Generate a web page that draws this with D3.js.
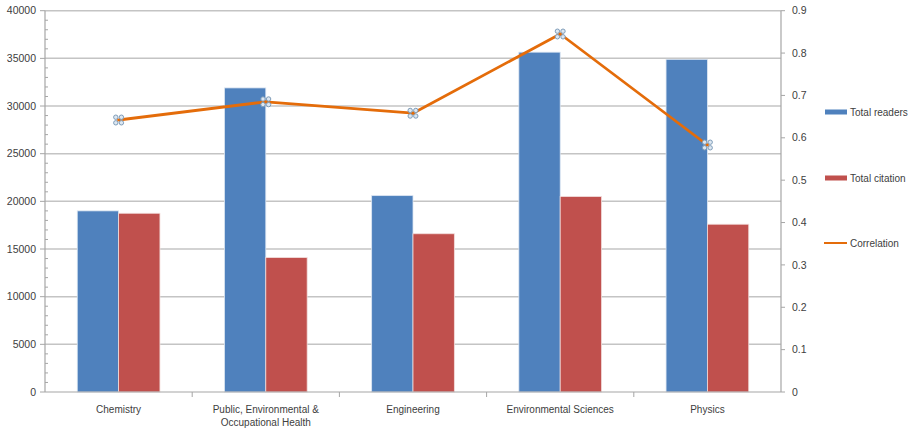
<!DOCTYPE html>
<html>
<head>
<meta charset="utf-8">
<script src="https://d3js.org/d3.v7.min.js"></script>
<style>
  body { margin: 0; background: #fff; }
  text { font-family: "Liberation Sans", Arial, sans-serif; fill: #404040; }
</style>
</head>
<body>
<svg></svg>
<script>
var width = 920,
    height = 431;

// data
var categories = ["Chemistry", "Public, Environmental & Occupational Health", "Engineering", "Environmental Sciences", "Physics"];
var categoryLines = [["Chemistry"], ["Public, Environmental &", "Occupational Health"], ["Engineering"], ["Environmental Sciences"], ["Physics"]];
var totalReaders = [19000, 31900, 20600, 35650, 34900];
var totalCitation = [18750, 14100, 16600, 20500, 17600];
var correlation = [0.642, 0.685, 0.658, 0.845, 0.583];
var leftTicks = [0, 5000, 10000, 15000, 20000, 25000, 30000, 35000, 40000];
var rightTicks = [0, 0.1, 0.2, 0.3, 0.4, 0.5, 0.6, 0.7, 0.8, 0.9];
var seriesNames = ["Total readers", "Total citation", "Correlation"];

var colors = {readers: "#4F81BD", citation: "#C0504D", corr: "#E46C0A"};

var svg = d3.select("svg")
    .attr("width", width)
    .attr("height", height);

var margin = {left: 45, right: 139, top: 10.7, bottom: 39};
var x0 = margin.left, x1 = width - margin.right;
var yTop = margin.top, yBot = height - margin.bottom;

var x = d3.scaleBand()
  .domain(categories)
  .range([x0, x1]);

var xInner = d3.scaleBand()
  .domain(["r", "c"])
  .range([0, x.bandwidth()])
  .paddingOuter(0.78)
  .paddingInner(0);

var y = d3.scaleLinear().domain([0, 40000]).range([yBot, yTop]);
var y2 = d3.scaleLinear().domain([0, 0.9]).range([yBot, yTop]);

//gridlines
svg.append("g").selectAll("line")
    .data(leftTicks.slice(1))
  .enter().append("line")
    .attr("x1", x0).attr("x2", x1)
    .attr("y1", function(d){ return y(d); })
    .attr("y2", function(d){ return y(d); })
    .attr("stroke", "#C4C4C4")
    .attr("stroke-width", 1.5);

//bars
var groups = svg.append("g").selectAll("g")
    .data(categories)
  .enter().append("g")
    .attr("transform", function(d){ return "translate(" + x(d) + ",0)"; });

groups.append("rect")
  .attr("x", xInner("r"))
  .attr("width", xInner.bandwidth())
  .attr("y", function(d, i){ return y(totalReaders[i]); })
  .attr("height", function(d, i){ return yBot - y(totalReaders[i]); })
  .attr("fill", colors.readers)
  .attr("stroke", "#DCE6F2")
  .attr("stroke-width", 0.8);

groups.append("rect")
  .attr("x", xInner("c"))
  .attr("width", xInner.bandwidth())
  .attr("y", function(d, i){ return y(totalCitation[i]); })
  .attr("height", function(d, i){ return yBot - y(totalCitation[i]); })
  .attr("fill", colors.citation)
  .attr("stroke", "#F2DCDB")
  .attr("stroke-width", 0.8);

//left axis
var leftAxis = svg.append("g");
leftAxis.append("line")
  .attr("x1", x0).attr("x2", x0).attr("y1", yTop).attr("y2", yBot)
  .attr("stroke", "#A6A6A6").attr("stroke-width", 1.2);
leftAxis.selectAll(".minor")
    .data(d3.range(0, 40001, 1000).filter(function(d){ return d % 5000 != 0; }))
  .enter().append("line")
    .attr("x1", x0).attr("x2", x0 + 3)
    .attr("y1", function(d){ return y(d); })
    .attr("y2", function(d){ return y(d); })
    .attr("stroke", "#A6A6A6");
leftAxis.selectAll(".major")
    .data(leftTicks)
  .enter().append("line")
    .attr("x1", x0 - 5).attr("x2", x0)
    .attr("y1", function(d){ return y(d); })
    .attr("y2", function(d){ return y(d); })
    .attr("stroke", "#A6A6A6");
leftAxis.selectAll("text")
    .data(leftTicks)
  .enter().append("text")
    .attr("x", x0 - 9)
    .attr("y", function(d){ return y(d); })
    .attr("dy", "0.35em")
    .attr("text-anchor", "end")
    .style("font-size", "10.5px")
    .text(function(d){ return d; });

//right axis
var rightAxis = svg.append("g");
rightAxis.append("line")
  .attr("x1", x1).attr("x2", x1).attr("y1", yTop).attr("y2", yBot)
  .attr("stroke", "#A6A6A6").attr("stroke-width", 1.2);
rightAxis.selectAll("line.tk")
    .data(rightTicks)
  .enter().append("line")
    .attr("class", "tk")
    .attr("x1", x1).attr("x2", x1 + 4)
    .attr("y1", function(d){ return y2(d); })
    .attr("y2", function(d){ return y2(d); })
    .attr("stroke", "#A6A6A6");
rightAxis.selectAll("text")
    .data(rightTicks)
  .enter().append("text")
    .attr("x", x1 + 11)
    .attr("y", function(d){ return y2(d); })
    .attr("dy", "0.35em")
    .style("font-size", "10.5px")
    .text(function(d){ return d3.format("")(+d.toFixed(1)); });

//bottom axis
var bottomAxis = svg.append("g");
bottomAxis.append("line")
  .attr("x1", x0).attr("x2", x1).attr("y1", yBot).attr("y2", yBot)
  .attr("stroke", "#A6A6A6").attr("stroke-width", 1.2);
bottomAxis.selectAll("line.tk")
    .data(categories.slice(1))
  .enter().append("line")
    .attr("class", "tk")
    .attr("x1", function(d){ return x(d); })
    .attr("x2", function(d){ return x(d); })
    .attr("y1", yBot).attr("y2", yBot + 5)
    .attr("stroke", "#A6A6A6");
bottomAxis.selectAll("text")
    .data(categories)
  .enter().append("text")
    .attr("text-anchor", "middle")
    .attr("x", function(d){ return x(d) + x.bandwidth() / 2; })
    .attr("y", yBot + 21)
    .style("font-size", "10px")
    .each(function(d, i){
      var t = d3.select(this);
      categoryLines[i].forEach(function(line, j){
        t.append("tspan")
          .attr("x", x(d) + x.bandwidth() / 2)
          .attr("dy", j == 0 ? 0 : 12.5)
          .text(line);
      });
    });

//correlation line
var line = d3.line()
  .x(function(d, i){ return x(categories[i]) + x.bandwidth() / 2; })
  .y(function(d){ return y2(d); });

svg.append("path")
  .datum(correlation)
  .attr("d", line)
  .attr("fill", "none")
  .attr("stroke", colors.corr)
  .attr("stroke-width", 2.8)
  .attr("stroke-linejoin", "round");

//the little handle markers on the points
var marks = svg.append("g").selectAll("g")
    .data(correlation)
  .enter().append("g")
    .attr("transform", function(d, i){
      return "translate(" + (x(categories[i]) + x.bandwidth() / 2) + "," + y2(d) + ")";
    });
marks.append("path")
  .attr("d", "M-3,-3L3,3M-3,3L3,-3")
  .attr("stroke", colors.corr)
  .attr("stroke-width", 1.5);
[[-2.8, -2.8], [2.8, -2.8], [-2.8, 2.8], [2.8, 2.8]].forEach(function(p){
  marks.append("circle")
    .attr("cx", p[0]).attr("cy", p[1]).attr("r", 2.2)
    .attr("fill", "#DDE7F1")
    .attr("stroke", "#7F9DB9")
    .attr("stroke-width", 1);
});

//legend
var legendY = [112, 178, 243];
var legend = svg.append("g").selectAll("g")
    .data(seriesNames)
  .enter().append("g")
    .attr("transform", function(d, i){ return "translate(825," + legendY[i] + ")"; });
legend.each(function(d, i){
  var g = d3.select(this);
  if (i < 2) {
    g.append("rect")
      .attr("x", 0).attr("y", -2.5).attr("width", 22).attr("height", 5)
      .attr("fill", i == 0 ? colors.readers : colors.citation);
  } else {
    g.append("line")
      .attr("x1", -1).attr("x2", 22).attr("y1", 0).attr("y2", 0)
      .attr("stroke", colors.corr).attr("stroke-width", 2);
  }
  g.append("text")
    .attr("x", 25)
    .attr("dy", "0.35em")
    .style("font-size", "10px")
    .text(d);
});
</script>
</body>
</html>
